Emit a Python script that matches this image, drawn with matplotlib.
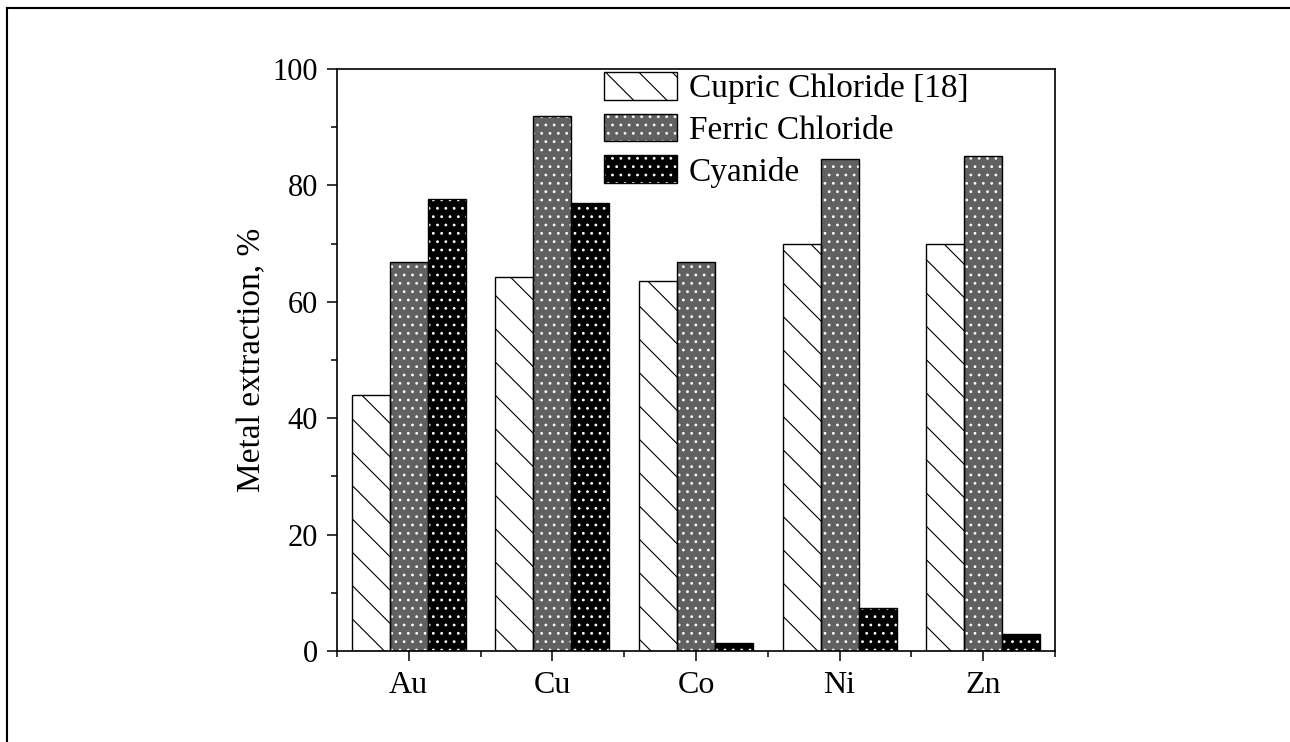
import matplotlib
matplotlib.use("Agg")
import matplotlib.pyplot as plt
import numpy as np
from matplotlib.patches import Patch
from matplotlib.lines import Line2D
from matplotlib.ticker import MultipleLocator, FixedLocator

metals = ["Au", "Cu", "Co", "Ni", "Zn"]
cupric = [44.0, 64.2, 63.6, 70.0, 70.0]
ferric = [66.8, 92.0, 66.8, 84.6, 85.0]
cyanide = [77.6, 77.0, 1.4, 7.4, 3.0]
series_names = ["Cupric Chloride [18]", "Ferric Chloride", "Cyanide"]

plt.rcParams['font.family'] = ['Liberation Serif', 'DejaVu Serif']
plt.rcParams['hatch.linewidth'] = 0.8

fig = plt.figure(figsize=(12.9, 7.42), dpi=100)
ax = fig.add_axes([337/1290, 91/742, (1055-337)/1290, (651-69)/742])

x = np.arange(1, len(metals) + 1)
w = 0.265
styles = [
    dict(face="white", hcolor="black", hatch="\\"),
    dict(face="0.38", hcolor="white", hatch=".."),
    dict(face="black", hcolor="white", hatch=".."),
]
data = [cupric, ferric, cyanide]
for i, (vals, st) in enumerate(zip(data, styles)):
    pos = x + (i - 1) * w
    ax.bar(pos, vals, width=w, color=st["face"], edgecolor=st["hcolor"],
           hatch=st["hatch"], linewidth=0, zorder=2)
    ax.bar(pos, vals, width=w, fill=False, edgecolor="black", linewidth=1.0, zorder=3)

ax.set_xlim(0.5, 5.5)
ax.set_ylim(0, 100)
ax.xaxis.set_major_locator(FixedLocator(x))
ax.set_xticklabels(metals)
ax.xaxis.set_minor_locator(FixedLocator(np.arange(0.5, 6.0, 1.0)))
ax.yaxis.set_major_locator(MultipleLocator(20))
ax.yaxis.set_minor_locator(MultipleLocator(10))
ax.tick_params(which="major", direction="out", length=7.5, width=1.1, labelsize=22, pad=6)
ax.tick_params(which="minor", direction="out", length=4, width=1.1)
ax.tick_params(axis="x", which="major", pad=7, labelsize=23)
for s in ax.spines.values():
    s.set_linewidth(1.2)
ax.set_ylabel("Metal extraction, %", fontsize=24, labelpad=4)

handles = [Patch(facecolor=st["face"], edgecolor=st["hcolor"], hatch=st["hatch"], linewidth=0) for st in styles]
outl = [Patch(facecolor="none", edgecolor="black", linewidth=1.0) for st in styles]
leg = ax.legend([(h, o) for h, o in zip(handles, outl)], series_names,
                loc="upper left", bbox_to_anchor=(604/1290, 1 - 72/742), bbox_transform=fig.transFigure,
                frameon=False, fontsize=24, handlelength=2.2, handleheight=0.9,
                handletextpad=0.35, labelspacing=0.28, borderpad=0, borderaxespad=0)

# outer frame (top and left)
fig.add_artist(Line2D([7/1290, 1.0], [1 - 8/742, 1 - 8/742], color="black", lw=1.5, transform=fig.transFigure))
fig.add_artist(Line2D([7/1290, 7/1290], [0, 1 - 8/742], color="black", lw=1.5, transform=fig.transFigure))

fig.savefig("out.png", dpi=100)
